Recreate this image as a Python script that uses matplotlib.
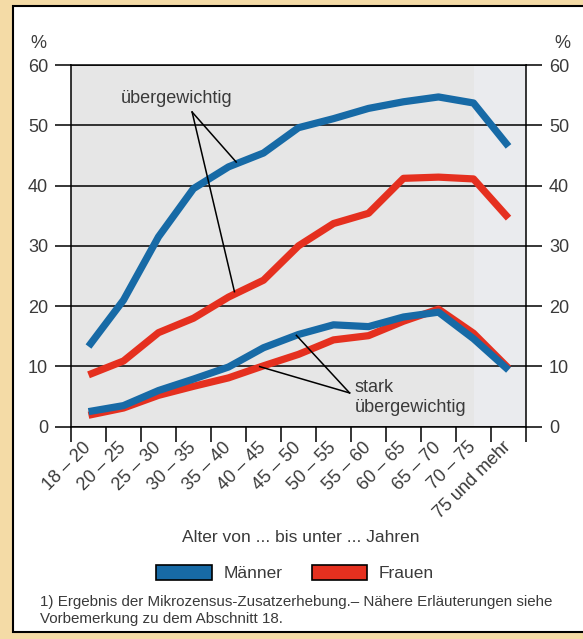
import matplotlib
matplotlib.use("Agg")
import matplotlib.pyplot as plt
from matplotlib.patches import Rectangle, Patch
import numpy as np

plt.rcParams['font.family'] = ['Liberation Sans', 'DejaVu Sans']

# Altersgruppen
kategorien = ['18 – 20', '20 – 25', '25 – 30', '30 – 35', '35 – 40', '40 – 45', '45 – 50',
              '50 – 55', '55 – 60', '60 – 65', '65 – 70', '70 – 75', '75 und mehr']

# Anteile in %
maenner_ueber = [13.3, 21.0, 31.5, 39.5, 43.1, 45.4, 49.6, 51.1, 52.8, 53.9, 54.7, 53.7, 46.5]
frauen_ueber = [8.6, 10.9, 15.6, 18.0, 21.5, 24.3, 30.0, 33.7, 35.4, 41.2, 41.4, 41.1, 34.6]
maenner_stark = [2.5, 3.5, 6.0, 7.9, 9.9, 13.1, 15.3, 16.9, 16.6, 18.2, 19.0, 14.6, 9.4]
frauen_stark = [1.9, 3.1, 5.2, 6.7, 8.1, 10.1, 12.0, 14.4, 15.1, 17.5, 19.5, 15.5, 9.7]

y_ticks = [0, 10, 20, 30, 40, 50, 60]

blau = '#176aa6'
rot = '#e5301f'
text_farbe = '#3a3a3a'

W, H = 583, 639
fig = plt.figure(figsize=(W / 100, H / 100), dpi=100)
fig.patch.set_facecolor('#f4dba6')

# weisses Feld mit schwarzem Rahmen
fig.patches.append(Rectangle((12.7 / W, 7 / H), 1.0, (632 - 6) / H, transform=fig.transFigure,
                             facecolor='white', edgecolor='black', linewidth=1.5, zorder=-10))

ax = fig.add_axes([71 / W, (H - 426.7) / H, (526 - 71) / W, (426.7 - 65) / H])
ax.set_facecolor('#e6e6e6')
# etwas hellerer Streifen am rechten Rand
ax.axvspan(11, 12.5, color='#eaebee', lw=0, zorder=0)

x = np.arange(len(kategorien))
stil = dict(lw=5.2, solid_capstyle='butt', solid_joinstyle='round')
ax.plot(x, frauen_ueber, color=rot, zorder=3, **stil)
ax.plot(x, frauen_stark, color=rot, zorder=3, **stil)
ax.plot(x, maenner_ueber, color=blau, zorder=4, **stil)
ax.plot(x, maenner_stark, color=blau, zorder=4, **stil)

ax.set_xlim(-0.5, len(kategorien) - 0.5)
ax.set_ylim(0, 60)

ax.set_yticks(y_ticks)
ax.tick_params(axis='y', left=True, right=True, labelleft=True, labelright=True,
               length=11.5, width=1.1, pad=5, labelsize=13, labelcolor=text_farbe)
ax.yaxis.grid(True, color='black', linewidth=1.1, zorder=1)
ax.set_axisbelow(True)

ax.set_xticks(x)
ax.set_xticklabels(kategorien, rotation=45, ha='right', va='center', rotation_mode='anchor')
ax.tick_params(axis='x', which='major', length=0, pad=13, labelsize=13, labelcolor=text_farbe)
ax.set_xticks(np.arange(-0.5, len(kategorien)), minor=True)
ax.tick_params(axis='x', which='minor', length=11, width=1.1, color='black')

for s in ax.spines.values():
    s.set_color('black')
    s.set_linewidth(1.1)

# Beschriftungen im Diagramm
ax.text(2.51, 54.5, 'übergewichtig', ha='center', va='center', fontsize=13, color=text_farbe)
for ziel in [(4.22, 43.9), (4.17, 22.4)]:
    ax.plot([2.96, ziel[0]], [52.2, ziel[1]], color='black', lw=1.1, zorder=5)

ax.text(7.6, 7.9, 'stark\nübergewichtig', ha='left', va='top', fontsize=13,
        color=text_farbe, linespacing=1.25)
for ziel in [(5.94, 15.15), (4.89, 9.97)]:
    ax.plot([7.46, ziel[0]], [5.6, ziel[1]], color='black', lw=1.1, zorder=5)

fig.text(38 / W, 1 - 43 / H, '%', ha='center', va='center', fontsize=13, color=text_farbe)
fig.text(562 / W, 1 - 43 / H, '%', ha='center', va='center', fontsize=13, color=text_farbe)

fig.text(301 / W, 1 - 538 / H, 'Alter von ... bis unter ... Jahren', ha='center', va='center',
         fontsize=12.5, color=text_farbe)

handles = [Patch(facecolor=blau, edgecolor='black', linewidth=1.2, label='Männer'),
           Patch(facecolor=rot, edgecolor='black', linewidth=1.2, label='Frauen')]
fig.legend(handles=handles, loc='center', bbox_to_anchor=(295 / W, 1 - 573 / H), ncol=2,
           frameon=False, fontsize=12.5, handlelength=3.2, handleheight=1.0,
           handletextpad=0.65, columnspacing=1.7, labelcolor=text_farbe)

fig.text(40 / W, 1 - 602 / H,
         '1) Ergebnis der Mikrozensus-Zusatzerhebung.– Nähere Erläuterungen siehe',
         ha='left', va='center', fontsize=10.9, color=text_farbe)
fig.text(40 / W, 1 - 619 / H, 'Vorbemerkung zu dem Abschnitt 18.',
         ha='left', va='center', fontsize=10.9, color=text_farbe)

fig.savefig('out.png', dpi=100, facecolor=fig.get_facecolor())
